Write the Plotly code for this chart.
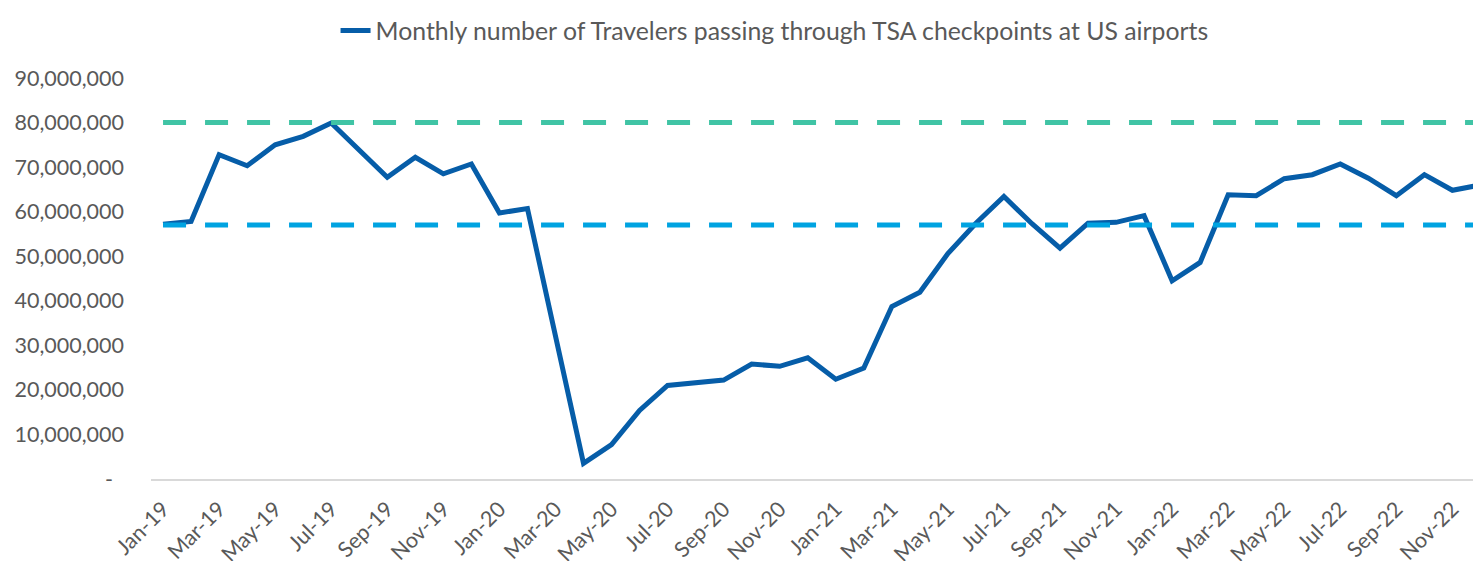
import plotly.graph_objects as go

months = [
    "Jan-19", "Feb-19", "Mar-19", "Apr-19", "May-19", "Jun-19", "Jul-19", "Aug-19", "Sep-19", "Oct-19", "Nov-19", "Dec-19",
    "Jan-20", "Feb-20", "Mar-20", "Apr-20", "May-20", "Jun-20", "Jul-20", "Aug-20", "Sep-20", "Oct-20", "Nov-20", "Dec-20",
    "Jan-21", "Feb-21", "Mar-21", "Apr-21", "May-21", "Jun-21", "Jul-21", "Aug-21", "Sep-21", "Oct-21", "Nov-21", "Dec-21",
    "Jan-22", "Feb-22", "Mar-22", "Apr-22", "May-22", "Jun-22", "Jul-22", "Aug-22", "Sep-22", "Oct-22", "Nov-22", "Dec-22",
]

travelers = [
    57200000, 57800000, 72800000, 70300000, 75000000, 76900000, 79900000, 73900000, 67700000, 72200000, 68500000, 70700000,
    59700000, 60700000, 31500000, 3500000, 7700000, 15400000, 21000000, 21500000, 22200000, 25800000, 25300000, 27200000,
    22400000, 24900000, 38700000, 41900000, 50600000, 57400000, 63400000, 57300000, 51800000, 57400000, 57600000, 59100000,
    44500000, 48600000, 63800000, 63600000, 67400000, 68300000, 70700000, 67500000, 63600000, 68300000, 64800000, 66000000,
]

upper_reference = 80000000
lower_reference = 57000000

y_tick_values = [0, 10000000, 20000000, 30000000, 40000000, 50000000, 60000000, 70000000, 80000000, 90000000]
y_tick_labels = ["-\u00a0\u00a0"] + [f"{v:,}" for v in y_tick_values[1:]]
x_tick_labels = months[::2]

FONT = "Lato"
GREY = "#595959"

fig = go.Figure()

fig.add_trace(go.Scatter(
    x=months, y=travelers, mode="lines",
    name="Monthly number of Travelers passing through TSA checkpoints at US airports",
    line=dict(color="#065DA8", width=5),
))
fig.add_trace(go.Scatter(
    x=months, y=[upper_reference] * len(months), mode="lines", showlegend=False,
    line=dict(color="#40C4A5", width=5, dash="23px,19px"),
))
fig.add_trace(go.Scatter(
    x=months, y=[lower_reference] * len(months), mode="lines", showlegend=False,
    line=dict(color="#00A3E1", width=5, dash="23px,19px"),
))

# page body has an 8px margin, so the figure is sized to fill the rest of the window
fig.update_layout(
    width=1473, height=553,
    margin=dict(l=143, r=0, t=70, b=82, autoexpand=False),
    paper_bgcolor="white", plot_bgcolor="white",
    font=dict(family=FONT, size=21, color=GREY),
    showlegend=True,
    legend=dict(
        orientation="h", xref="container", yref="container",
        x=0.5204, xanchor="center", y=1.0, yanchor="top",
        font=dict(family=FONT, size=24.8, color=GREY),
        bgcolor="rgba(0,0,0,0)",
    ),
    xaxis=dict(
        type="category", range=[-0.43, 47.02], automargin=False,
        tickmode="array", tickvals=x_tick_labels, ticktext=x_tick_labels,
        tickangle=-45, showgrid=False, zeroline=False,
        showline=True, linecolor="#D9D9D9", linewidth=2,
        ticks="", ticklabelstandoff=7,
        tickfont=dict(family=FONT, size=21.5, color=GREY),
    ),
    yaxis=dict(
        range=[0, 90000000], automargin=False,
        tickmode="array", tickvals=y_tick_values, ticktext=y_tick_labels,
        showgrid=False, zeroline=False, showline=False, ticks="",
        ticklabelstandoff=26,
        tickfont=dict(family=FONT, size=21.5, color=GREY),
    ),
)

fig.write_html("out.html")
